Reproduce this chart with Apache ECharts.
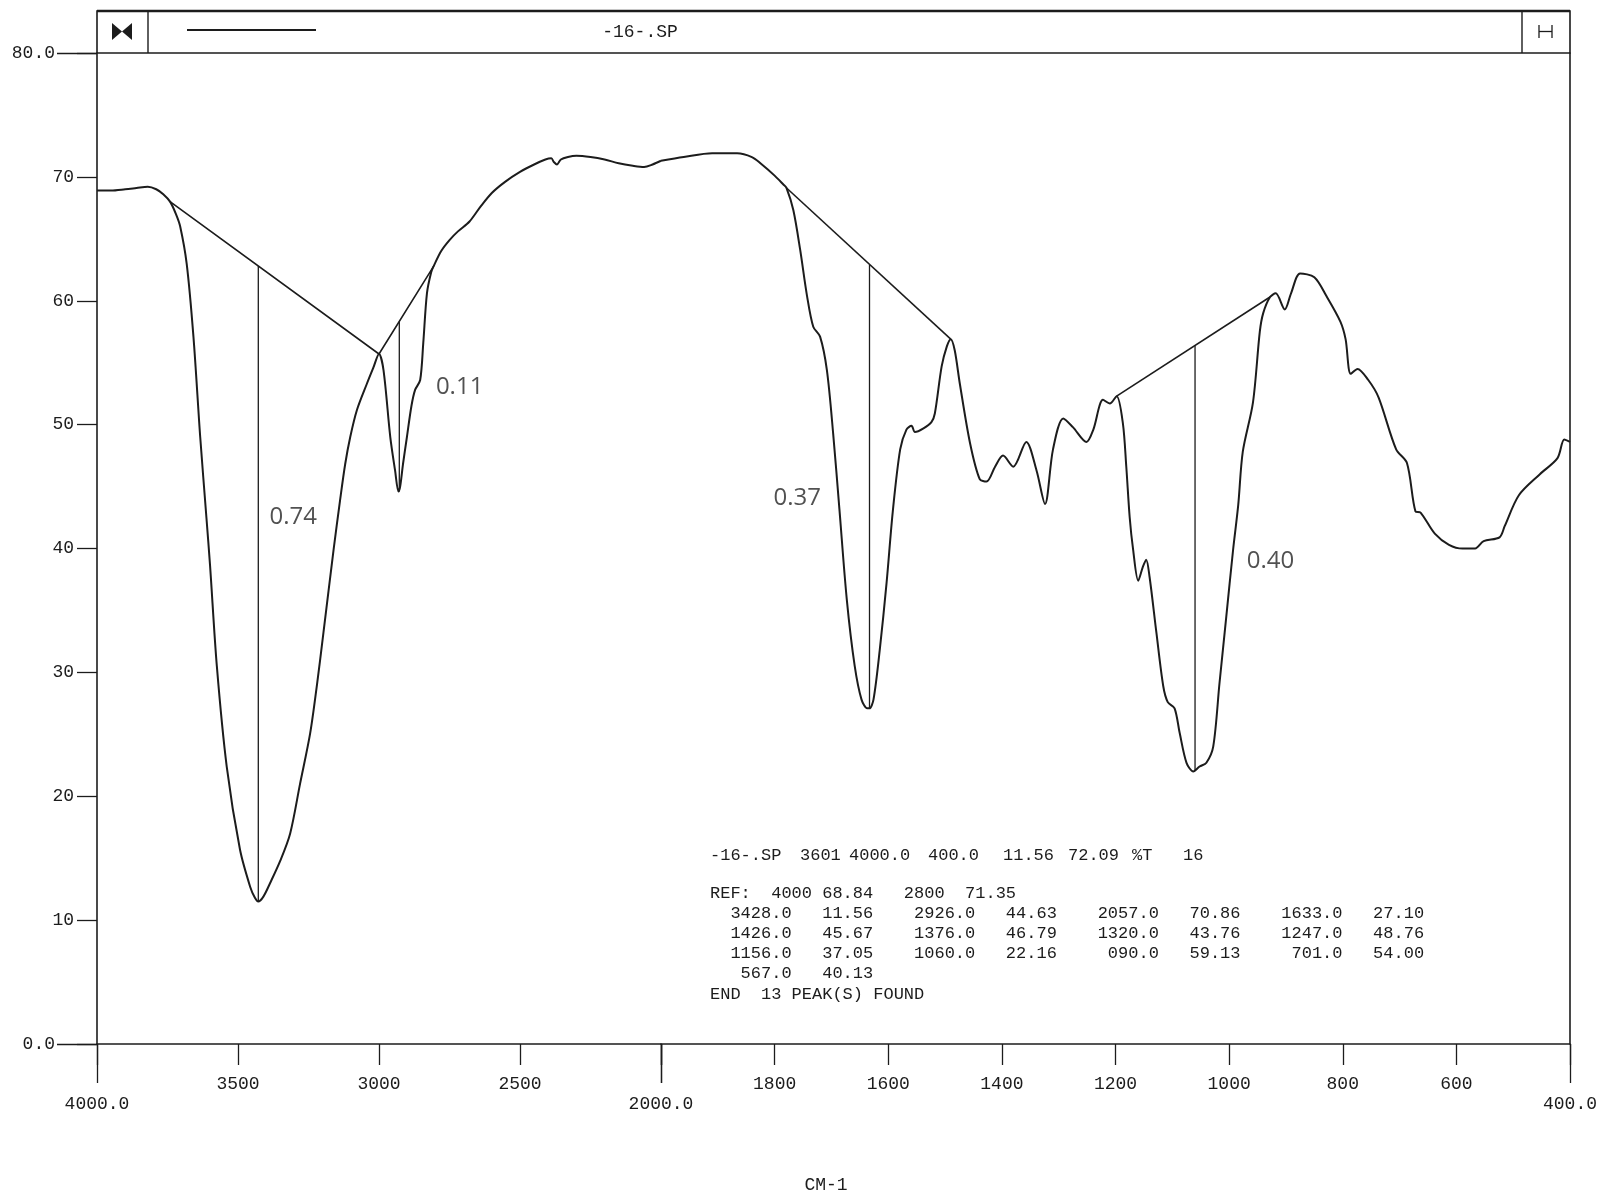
<!DOCTYPE html>
<html><head><meta charset="utf-8">
<script src="https://cdn.jsdelivr.net/npm/echarts@6/dist/echarts.min.js"></script>
<style>html,body{margin:0;padding:0;background:#fff}#c{width:1599px;height:1198px}</style>
</head><body><div id="c"></div>
<script>
// ---------- data ----------
// 4000-2000 cm-1 part of the spectrum
const hiWn = [4000,3950,3900,3860,3820,3790,3765,3741,3720,3705,3682,3658,3634,3612,3599,3575,3540,3493,3457,3440,3428,3410,3386,3350,3315,3280,3244,3220,3197,3161,3138,3120,3102,3078,3043,3020,3000,2984,2960,2943,2931,2925,2915,2901,2885,2872,2854,2843,2830,2815,2806,2780,2750,2720,2679,2640,2600,2553,2500,2450,2410,2389,2380,2369,2355,2330,2300,2250,2200,2150,2100,2060,2030,2000];
const hiT  = [68.9,68.9,69.0,69.1,69.2,69.0,68.6,68.0,67.0,66.0,63.0,57.1,49.0,42.5,38.6,30.5,22.4,15.7,12.7,11.8,11.5,11.9,13.0,14.8,17.0,21.0,25.1,29.0,33.2,39.9,43.9,46.8,49.0,51.2,53.3,54.6,55.7,54.4,49.0,46.3,44.6,45.0,46.8,49.0,51.5,52.8,53.6,56.6,60.6,62.3,62.8,64.0,64.9,65.6,66.4,67.6,68.7,69.6,70.4,71.0,71.4,71.5,71.2,71.0,71.4,71.6,71.7,71.6,71.4,71.1,70.9,70.8,71.0,71.3];
// 2000-400 cm-1 part of the spectrum
const loWn = [2000,1960,1910,1866,1840,1825,1800,1785,1779,1767,1755,1743,1732,1720,1708,1697,1686,1673,1659,1647,1637,1633,1626,1615,1603,1592,1579,1568,1559,1553,1538,1524,1518,1506,1497,1490,1483,1474,1456,1439,1427,1412,1398,1380,1357,1339,1324,1310,1292,1275,1251,1239,1222,1210,1198,1187,1181,1175,1169,1160,1152,1146,1140,1128,1116,1108,1096,1087,1075,1063,1052,1040,1028,1017,1005,993,984,976,958,946,940,928,918,902,891,875,850,829,804,795,786,774,755,737,706,687,672,663,638,613,589,567,552,524,515,490,453,422,410,400];
const loT  = [71.3,71.6,71.9,71.9,71.6,71.1,70.1,69.4,69.1,67.3,64.1,60.4,57.9,57.1,54.4,49.3,43.2,35.9,30.5,27.8,27.1,27.1,27.8,31.8,37.2,43.0,48.0,49.6,49.9,49.4,49.7,50.2,50.9,54.7,56.3,56.9,56.0,53.3,48.5,45.6,45.4,46.6,47.5,46.6,48.6,46.3,43.6,48.0,50.5,49.8,48.6,49.6,52.0,51.7,52.3,50.1,46.6,42.5,39.9,37.4,38.5,39.1,37.7,33.2,28.9,27.6,27.1,25.1,22.7,22.0,22.4,22.7,24.0,29.1,34.5,39.9,43.5,47.8,51.8,57.5,59.0,60.3,60.6,59.3,60.6,62.2,61.9,60.4,58.3,56.9,54.1,54.5,53.6,52.2,48.0,46.9,43.0,42.9,41.2,40.3,40.0,40.0,40.6,40.9,41.8,44.3,46.0,47.3,48.8,48.6];

// peak-picking baselines (tangent lines) and drop lines
const baseHiWn = [3741,3000,2806];
const baseHiT  = [68.0,55.7,62.8];
const baseLo1Wn = [1779,1490];
const baseLo1T  = [69.1,56.9];
const baseLo2Wn = [1198,928];
const baseLo2T  = [52.3,60.3];
const dropHiWn = [3428,2928];
const dropHiLow = [11.5,44.6];
const dropHiTop = [62.8,58.3];
const dropLoWn = [1633,1060];
const dropLoLow = [27.1,22.1];
const dropLoTop = [62.9,56.4];

// handwritten absorbance notes
const noteHiText = ['0.74','0.11'];
const noteHiWn = [3390,2800];
const noteHiT = [42.5,53.0];
const noteLoText = ['0.37','0.40'];
const noteLoWn = [1803,970];
const noteLoT = [44.1,39.0];

// axis tick labels
const hiTickLabels = [3500,3000,2500];
const loTickLabels = [1800,1600,1400,1200,1000,800,600];
const endLabelValues = [4000,2000,400];
const endLabelTexts = ['4000.0','2000.0','400.0'];
const yTickLabels = [10,20,30,40,50,60,70];

// printed peak table
const tableHead = ['-16-.SP','3601','4000.0','400.0','11.56','72.09','%T','16'];
const tableRows = [
  'REF:  4000 68.84   2800  71.35',
  '  3428.0   11.56    2926.0   44.63    2057.0   70.86    1633.0   27.10',
  '  1426.0   45.67    1376.0   46.79    1320.0   43.76    1247.0   48.76',
  '  1156.0   37.05    1060.0   22.16     090.0   59.13     701.0   54.00',
  '   567.0   40.13',
  'END  13 PEAK(S) FOUND'
];

// ---------- chart ----------
const INK = '#1c1c1c';
const MONO = "'Liberation Mono','DejaVu Sans Mono',monospace";
const pairs = (a, b) => a.map((v, i) => [v, b[i]]);

const chart = echarts.init(document.getElementById('c'), null, {renderer: 'canvas'});

function lineSeries(data, xi, yi, width) {
  return {type: 'line', xAxisIndex: xi, yAxisIndex: yi, data: data, showSymbol: false, symbol: 'none',
    silent: true, animation: false, lineStyle: {color: INK, width: width}, z: 3};
}
function dropSeries(wn, low, top, xi, yi) {
  const out = [];
  wn.forEach((w, i) => out.push(lineSeries([[w, low[i]], [w, top[i]]], xi, yi, 1.3)));
  return out;
}
function noteSeries(text, wn, t, xi, yi) {
  return {type: 'scatter', xAxisIndex: xi, yAxisIndex: yi, symbolSize: 1, itemStyle: {color: 'rgba(0,0,0,0)'},
    data: wn.map((w, i) => ({value: [w, t[i]], name: text[i]})), silent: true,
    label: {show: true, position: 'right', distance: 0, formatter: p => p.name,
      fontFamily: "'Open Sans','DejaVu Sans',sans-serif", fontWeight: 400, fontSize: 24, color: '#262626'}};
}

const xBase = {type: 'value', inverse: true, position: 'bottom', splitLine: {show: false}};
const axisLabelStyle = {fontFamily: MONO, fontSize: 18, color: INK};

const option = {
  animation: false,
  backgroundColor: '#ffffff',
  grid: [
    {left: 97, top: 53, width: 564, height: 991, containLabel: false, outerBoundsMode: 'none'},
    {left: 661, top: 53, width: 909, height: 991, containLabel: false, outerBoundsMode: 'none'}
  ],
  xAxis: [
    Object.assign({}, xBase, {gridIndex: 0, min: 2000, max: 4000, interval: 500,
      axisLine: {show: true, lineStyle: {color: INK, width: 1.6}},
      axisTick: {show: true, length: 21, lineStyle: {color: INK, width: 1.3}},
      axisLabel: Object.assign({margin: 31, formatter: v => hiTickLabels.includes(v) ? String(v) : ''}, axisLabelStyle)}),
    Object.assign({}, xBase, {gridIndex: 0, min: 2000, max: 4000, interval: 2000,
      axisLine: {show: false},
      axisTick: {show: true, length: 39, lineStyle: {color: INK, width: 1.3}},
      axisLabel: Object.assign({margin: 51, showMinLabel: true, showMaxLabel: true,
        formatter: v => { const k = endLabelValues.indexOf(v); return k >= 0 ? endLabelTexts[k] : ''; }}, axisLabelStyle)}),
    Object.assign({}, xBase, {gridIndex: 1, min: 400, max: 2000, interval: 200,
      axisLine: {show: true, lineStyle: {color: INK, width: 1.6}},
      axisTick: {show: true, length: 21, lineStyle: {color: INK, width: 1.3}},
      axisLabel: Object.assign({margin: 31, formatter: v => loTickLabels.includes(v) ? String(v) : ''}, axisLabelStyle)}),
    Object.assign({}, xBase, {gridIndex: 1, min: 400, max: 2000, interval: 1600,
      axisLine: {show: false},
      axisTick: {show: true, length: 39, lineStyle: {color: INK, width: 1.3}},
      axisLabel: Object.assign({margin: 51, showMinLabel: true, showMaxLabel: true,
        formatter: v => v === 400 ? endLabelTexts[2] : ''}, axisLabelStyle)})
  ],
  yAxis: [
    {gridIndex: 0, type: 'value', min: 0, max: 80, interval: 10, position: 'left', splitLine: {show: false},
      axisLine: {show: true, lineStyle: {color: INK, width: 1.6}},
      axisTick: {show: true, length: 20, lineStyle: {color: INK, width: 1.3}},
      axisLabel: Object.assign({margin: 23, formatter: v => yTickLabels.includes(v) ? String(v) : ''}, axisLabelStyle)},
    {gridIndex: 0, type: 'value', min: 0, max: 80, interval: 80, position: 'left', splitLine: {show: false},
      axisLine: {show: false},
      axisTick: {show: true, length: 40, lineStyle: {color: INK, width: 1.3}},
      axisLabel: Object.assign({margin: 42, showMinLabel: true, showMaxLabel: true,
        formatter: v => v === 0 ? '0.0' : (v === 80 ? '80.0' : '')}, axisLabelStyle)},
    {gridIndex: 1, type: 'value', min: 0, max: 80, interval: 10, position: 'right', splitLine: {show: false},
      axisLine: {show: true, lineStyle: {color: INK, width: 1.6}},
      axisTick: {show: false}, axisLabel: {show: false}}
  ],
  series: [
    Object.assign(lineSeries(pairs(hiWn, hiT), 0, 0, 2), {smooth: 0.3}),
    Object.assign(lineSeries(pairs(loWn, loT), 2, 2, 2), {smooth: 0.3}),
    lineSeries(pairs(baseHiWn, baseHiT), 0, 0, 1.6),
    lineSeries(pairs(baseLo1Wn, baseLo1T), 2, 2, 1.6),
    lineSeries(pairs(baseLo2Wn, baseLo2T), 2, 2, 1.6),
    ...dropSeries(dropHiWn, dropHiLow, dropHiTop, 0, 0),
    ...dropSeries(dropLoWn, dropLoLow, dropLoTop, 2, 2),
    noteSeries(noteHiText, noteHiWn, noteHiT, 0, 0),
    noteSeries(noteLoText, noteLoWn, noteLoT, 2, 2)
  ],
  graphic: []
};

// header strip, icons, title and printed table
const g = [];
g.push({type: 'rect', shape: {x: 97, y: 11, width: 1473, height: 42}, style: {fill: 'none', stroke: INK, lineWidth: 1.6}, silent: true});
g.push({type: 'line', shape: {x1: 97, y1: 11, x2: 1570, y2: 11}, style: {stroke: INK, lineWidth: 2.4}, silent: true});
g.push({type: 'line', shape: {x1: 148, y1: 11, x2: 148, y2: 53}, style: {stroke: INK, lineWidth: 1.4}, silent: true});
g.push({type: 'line', shape: {x1: 1522, y1: 11, x2: 1522, y2: 53}, style: {stroke: INK, lineWidth: 1.4}, silent: true});
g.push({type: 'polygon', shape: {points: [[112, 23], [112, 40], [122, 31.5]]}, style: {fill: INK}, silent: true});
g.push({type: 'polygon', shape: {points: [[132, 23], [132, 40], [122, 31.5]]}, style: {fill: INK}, silent: true});
g.push({type: 'line', shape: {x1: 187, y1: 30, x2: 316, y2: 30}, style: {stroke: INK, lineWidth: 2}, silent: true});
g.push({type: 'text', x: 640, y: 32, style: {text: '-16-.SP', font: '18px ' + MONO, fill: INK, align: 'center', verticalAlign: 'middle'}, silent: true});
g.push({type: 'line', shape: {x1: 1539, y1: 25, x2: 1539, y2: 38}, style: {stroke: INK, lineWidth: 1.3}, silent: true});
g.push({type: 'line', shape: {x1: 1552, y1: 25, x2: 1552, y2: 38}, style: {stroke: INK, lineWidth: 1.3}, silent: true});
g.push({type: 'line', shape: {x1: 1539, y1: 31.5, x2: 1552, y2: 31.5}, style: {stroke: INK, lineWidth: 1.3}, silent: true});

const headX = [710, 800, 849, 928, 1003, 1068, 1132, 1183];
tableHead.forEach((t, i) => g.push({type: 'text', x: headX[i], y: 855,
  style: {text: t, font: '17px ' + MONO, fill: INK, align: 'left', verticalAlign: 'middle'}, silent: true}));
tableRows.forEach((t, i) => g.push({type: 'text', x: 710, y: 893 + i * 20.2,
  style: {text: t, font: '17px ' + MONO, fill: INK, align: 'left', verticalAlign: 'middle'}, silent: true}));
g.push({type: 'text', x: 826, y: 1185, style: {text: 'CM-1', font: '18px ' + MONO, fill: INK, align: 'center', verticalAlign: 'middle'}, silent: true});
option.graphic = g;

chart.setOption(option);
</script></body></html>
